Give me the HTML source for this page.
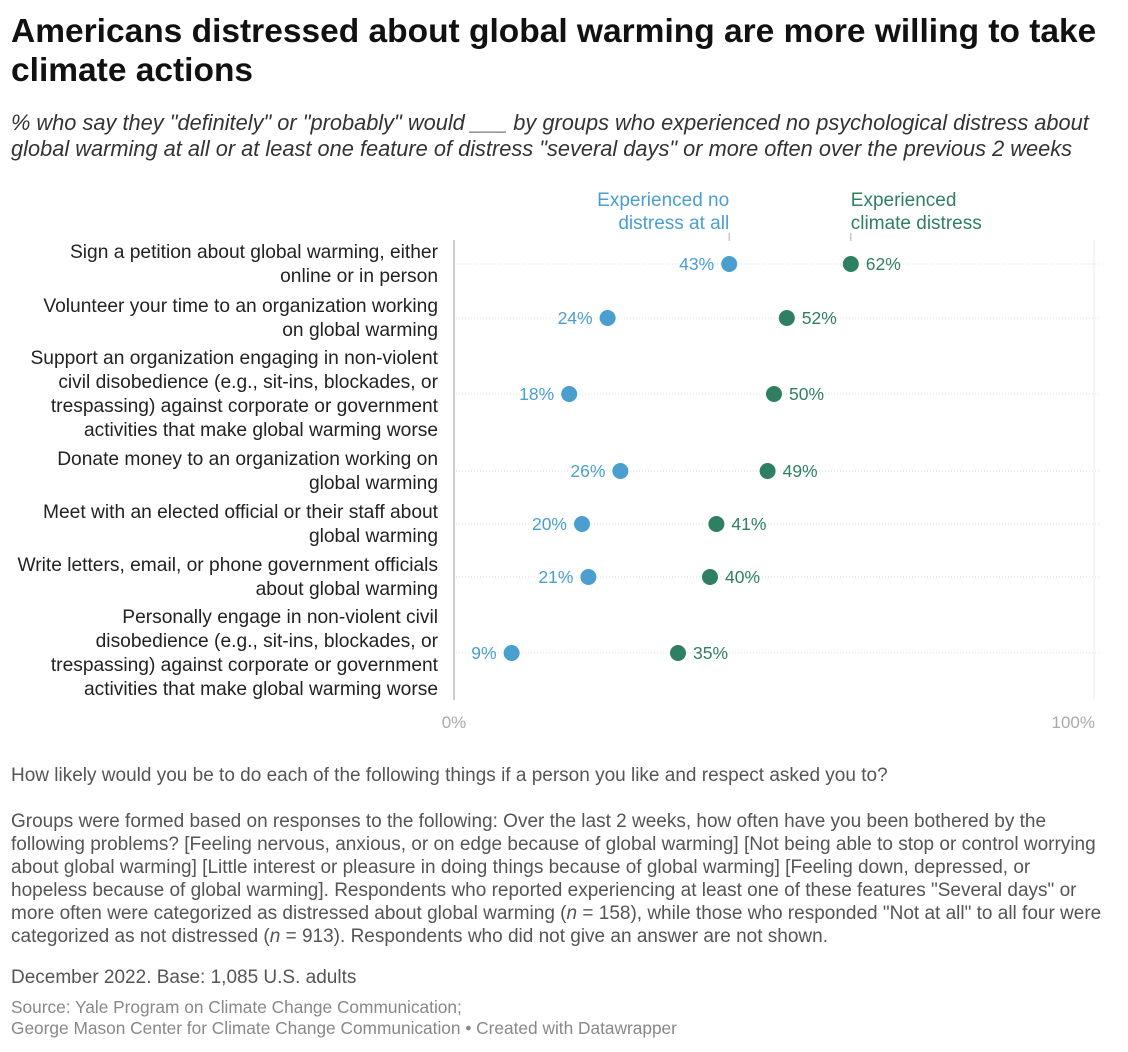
<!DOCTYPE html>
<html><head><meta charset="utf-8"><style>
body{margin:0;background:#fff;font-family:"Liberation Sans",sans-serif;width:1128px;height:1052px;position:relative;overflow:hidden}
.a{position:absolute}
#title{left:11px;top:12px;font-size:33.5px;font-weight:bold;line-height:39px;color:#111;width:1110px}
#sub{left:11px;top:110px;font-size:21.8px;font-style:italic;line-height:26px;color:#333;width:1110px}
.lab{position:absolute;right:690px;text-align:right;font-size:19.2px;line-height:24px;color:#222;white-space:nowrap}
.note{left:11px;font-size:19px;line-height:23px;color:#555;width:1100px}
.src{left:11px;font-size:17.3px;line-height:21px;color:#888;white-space:nowrap}
</style></head><body>
<div class="a" id="title">Americans distressed about global warming are more willing to take climate actions</div>
<div class="a" id="sub">% who say they "definitely" or "probably" would ___ by groups who experienced no psychological distress about global warming at all or at least one feature of distress "several days" or more often over the previous 2 weeks</div>
<div id="labels"></div>
<svg class="a" style="left:0;top:0" width="1128" height="760">
<g id="g"></g></svg>
<div class="a note" style="top:764px">How likely would you be to do each of the following things if a person you like and respect asked you to?</div>
<div class="a note" style="top:810px">Groups were formed based on responses to the following: Over the last 2 weeks, how often have you been bothered by the following problems? [Feeling nervous, anxious, or on edge because of global warming] [Not being able to stop or control worrying about global warming] [Little interest or pleasure in doing things because of global warming] [Feeling down, depressed, or hopeless because of global warming]. Respondents who reported experiencing at least one of these features "Several days" or more often were categorized as distressed about global warming (<i>n</i> = 158), while those who responded "Not at all" to all four were categorized as not distressed (<i>n</i> = 913). Respondents who did not give an answer are not shown.</div>
<div class="a note" style="top:966px">December 2022. Base: 1,085 U.S. adults</div>
<div class="a src" style="top:997px">Source: Yale Program on Climate Change Communication;<br>George Mason Center for Climate Change Communication • Created with Datawrapper</div>
<script>
const categories=[
["Sign a petition about global warming, either","online or in person"],
["Volunteer your time to an organization working","on global warming"],
["Support an organization engaging in non-violent","civil disobedience (e.g., sit-ins, blockades, or","trespassing) against corporate or government","activities that make global warming worse"],
["Donate money to an organization working on","global warming"],
["Meet with an elected official or their staff about","global warming"],
["Write letters, email, or phone government officials","about global warming"],
["Personally engage in non-violent civil","disobedience (e.g., sit-ins, blockades, or","trespassing) against corporate or government","activities that make global warming worse"]];
const noDistress=[43,24,18,26,20,21,9];
const distress=[62,52,50,49,41,40,35];
const axisTicks=[0,100];
const rowY=[264,318,394,471,524,577,653];
const x=v=>454+v*6.4;
const NS="http://www.w3.org/2000/svg",g=document.getElementById('g');
const BLUE="#4a9fce",GREEN="#2f7f62";
function el(t,at,txt){const e=document.createElementNS(NS,t);for(const k in at)e.setAttribute(k,at[k]);if(txt!==undefined)e.textContent=txt;g.appendChild(e);return e;}
let e=el('line',{x1:454,x2:454,y1:240,y2:700,stroke:'#ccc','stroke-width':2});

e=el('line',{x1:1094,x2:1094,y1:240,y2:700,stroke:'#eee','stroke-width':1});

axisTicks.forEach((t,i)=>{const e=el('text',{x:x(t),y:728,'font-size':17,fill:'#aaa','text-anchor':i?'end':'middle'},t+'%');if(i)e.setAttribute('x',x(t)+1);
});
const labs=document.getElementById('labels');
categories.forEach((c,i)=>{
 const y=rowY[i];
 const gl=el('line',{x1:456,x2:1100,y1:y,y2:y,stroke:'#ddd','stroke-dasharray':'1 2'});
 
 const d=document.createElement('div');d.className='lab';
 d.style.top=(y-c.length*12+1)+'px';d.innerHTML=c.join('<br>');
 labs.appendChild(d);
 const b=el('circle',{cx:x(noDistress[i]),cy:y,r:8,fill:BLUE});
 
 const bt=el('text',{x:x(noDistress[i])-15,y:y+6,'font-size':17.5,fill:BLUE,'text-anchor':'end'},noDistress[i]+'%');
 
 const gc=el('circle',{cx:x(distress[i]),cy:y,r:8,fill:GREEN});
 
 const gt=el('text',{x:x(distress[i])+15,y:y+6,'font-size':17.5,fill:GREEN},distress[i]+'%');
 
});
const bx=x(noDistress[0]),gx=x(distress[0]);
e=el('text',{x:bx,y:206,'font-size':19,fill:BLUE,'text-anchor':'end'});e.innerHTML='<tspan x="'+bx+'">Experienced no</tspan><tspan x="'+bx+'" dy="23">distress at all</tspan>';

e=el('text',{x:gx,y:206,'font-size':19,fill:GREEN});e.innerHTML='<tspan x="'+gx+'">Experienced</tspan><tspan x="'+gx+'" dy="23">climate distress</tspan>';

[bx,gx].forEach(v=>{const l=el('line',{x1:v,x2:v,y1:233,y2:241,stroke:'#aaa'});});
</script>
</body></html>
